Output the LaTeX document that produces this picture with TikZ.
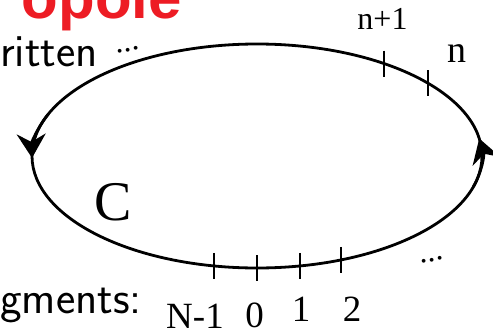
\documentclass[tikz,border=0pt]{standalone}
\usepackage{fontspec}
\setmainfont{Liberation Serif}
\newfontfamily\titlefont{Liberation Sans}
\usetikzlibrary{arrows.meta}
\definecolor{titlered}{RGB}{237,28,36}
\begin{document}
\begin{tikzpicture}[x=1pt,y=1pt,
  curve/.style={line width=2.8pt},
  ticklin/.style={line width=2.4pt},
  tipstyle/.style={curve,-{Stealth[length=24pt,width=29pt,inset=8pt]}},
  lab/.style={inner sep=0pt, anchor=base},
  sanstext/.style={inner sep=0pt, anchor=base west, font=\fontsize{46}{46}\selectfont\sffamily},
  dots/.style={inner sep=0pt, font=\fontsize{32}{32}\selectfont, rotate=12}]
\useasboundingbox (0,0) rectangle (493,333);
% cut-off title
\node[inner sep=0pt, anchor=base east, text=titlered,
      font=\fontsize{60}{60}\selectfont\titlefont\bfseries] (title) at (182,314) {opole};
\node[sanstext] (ritten) at (0,267) {ritten};
\node[sanstext] (gments) at (0,20) {gments:};
% contour
\coordinate (c) at (257,177);
\draw[curve] (c) ellipse [x radius=225, y radius=112];
\draw[tipstyle] ([shift={(c)}]158:225 and 112) arc[start angle=158, end angle=181, x radius=225, y radius=112];
\draw[tipstyle] ([shift={(c)}]-16:225 and 112) arc[start angle=-16, end angle=9, x radius=225, y radius=112];
% ticks
\foreach \nm/\a in {tnp1/55.6, tn/40.5, tNm1/259, tz/270, to/281, tt/292}{
  \coordinate (\nm) at ([shift={(c)}]\a:225 and 112);
  \draw[ticklin] ([yshift=13pt]\nm) -- ([yshift=-13pt]\nm);
}
% labels
\node[lab, font=\fontsize{32}{32}\selectfont] (lnp1) at (382.5,303) {n+1};
\node[lab, font=\fontsize{38}{38}\selectfont] (ln) at (456.5,271) {n};
\node[lab, font=\fontsize{56}{56}\selectfont] (lC) at (113,113) {C};
\node[lab, font=\fontsize{37}{37}\selectfont] (lNm1) at (195,5) {N-1};
\node[lab, font=\fontsize{37}{37}\selectfont] (l0) at (254.5,6) {0};
\node[lab, font=\fontsize{37}{37}\selectfont] (l1) at (301,12) {1};
\node[lab, font=\fontsize{37}{37}\selectfont] (l2) at (352,12) {2};
\node[dots] (d1) at (128,283) {...};
\node[dots] (d2) at (432,73) {...};
\end{tikzpicture}
\end{document}
